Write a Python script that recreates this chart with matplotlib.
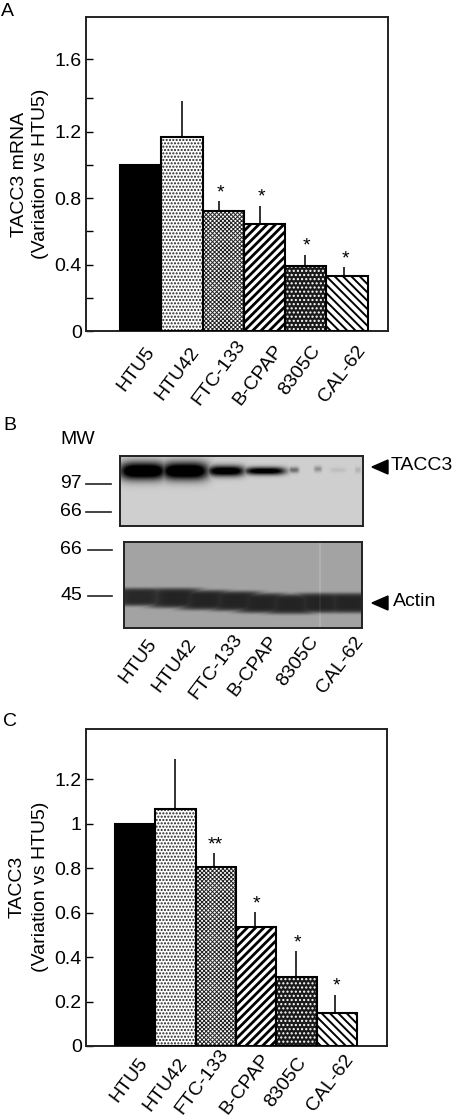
import numpy as np
import matplotlib
matplotlib.use("Agg")
import matplotlib.pyplot as plt
from matplotlib.transforms import ScaledTranslation

W, H, DPI = 455, 1117, 100
plt.rcParams['font.family'] = ['Liberation Sans', 'DejaVu Sans']
plt.rcParams['font.size'] = 14

cells = ["HTU5", "HTU42", "FTC-133", "B-CPAP", "8305C", "CAL-62"]

# panel A
mrna = [1.0, 1.17, 0.72, 0.645, 0.39, 0.33]
mrna_err = [0, 0.215, 0.06, 0.11, 0.07, 0.055]
mrna_stars = ["", "", "*", "*", "*", "*"]
mrna_ticks = [0, 0.4, 0.8, 1.2, 1.635]
mrna_ticklabels = ["0", "0.4", "0.8", "1.2", "1.6"]
mrna_minor = [0.2, 0.6, 1.0, 1.4]

# panel C
prot = [1.0, 1.065, 0.805, 0.535, 0.31, 0.148]
prot_err = [0, 0.225, 0.062, 0.067, 0.117, 0.082]
prot_stars = ["", "", "**", "*", "*", "*"]
prot_ticks = [0, 0.2, 0.4, 0.6, 0.8, 1.0, 1.2]
prot_ticklabels = ["0", "0.2", "0.4", "0.6", "0.8", "1", "1.2"]

# panel B, band darkness per lane
tacc3_dark = [1.0, 1.0, 0.9, 0.85, 0.35, 0.22, 0.06, 0.1]
actin_dark = [0.56, 0.58, 0.58, 0.58, 0.58, 0.58, 0.58, 0.58]

# facecolor, hatch colour, hatch, hatch line width
styles = [("black", "black", None, 1),
          ("white", "#222222", ".....", 1),
          ("white", "#222222", "xxxxxxxx", 0.7),
          ("white", "black", "////", 2.0),
          ("#1a1a1a", "white", "....", 1),
          ("white", "black", "\\\\\\\\", 1.4)]

fig = plt.figure(figsize=(W / DPI, H / DPI), dpi=DPI)


def px_axes(l, t, r, b):
    return fig.add_axes([l / W, 1 - b / H, (r - l) / W, (b - t) / H])


def bar_panel(box, xlim, ylim, vals, errs, stars, ticks, ticklabels, err_shift,
              lab_dx, lab_dy, minor=None):
    ax = px_axes(*box)
    x = np.arange(len(cells))
    shifted = x + np.array(err_shift)
    ax.errorbar(shifted, vals, yerr=[np.zeros(len(errs)), errs], fmt="none",
                ecolor="#222222", elinewidth=1.3, capsize=0, zorder=1)
    for xi, v, st in zip(x, vals, styles):
        with plt.rc_context({"hatch.linewidth": st[3], "hatch.color": st[1]}):
            ax.bar(xi, v, width=1, color=st[0], edgecolor=st[1], hatch=st[2],
                   linewidth=0, zorder=2)
        ax.bar(xi, v, width=1, fill=False, edgecolor="black", linewidth=1.5, zorder=3)
    for sx, v, e, s in zip(shifted, vals, errs, stars):
        ax.annotate(s, (sx, v + e), xytext=(1, 0), textcoords="offset points",
                    ha="center", va="bottom", fontsize=14, zorder=4)
    ax.set_xlim(*xlim)
    ax.set_ylim(*ylim)
    ax.set_yticks(ticks, ticklabels)
    if minor is not None:
        ax.set_yticks(minor, minor=True)
    ax.tick_params(axis="y", which="both", direction="in", length=5, width=1, pad=3,
                   labelsize=14)
    ax.set_xticks(x, cells, rotation=53, ha="right", va="center", rotation_mode="anchor")
    ax.tick_params(axis="x", length=0, pad=0, labelsize=14)
    for lab, dx, dy in zip(ax.get_xticklabels(), lab_dx, lab_dy):
        lab.set_transform(lab.get_transform() +
                          ScaledTranslation(dx / DPI, -dy / DPI, fig.dpi_scale_trans))
    for s in ax.spines.values():
        s.set_linewidth(1.4)
        s.set_color("#222222")
    return ax


bar_panel((86, 17, 388, 331), (-1.323, 5.99), (0, 1.89), mrna, mrna_err, mrna_stars,
          mrna_ticks, mrna_ticklabels, [0, -0.01, -0.1, -0.11, -0.02, -0.07],
          [11, 14, 19, 15, 11, 15], [18, 18, 11, 16, 16, 16], minor=mrna_minor)
bar_panel((86, 729, 387, 1046), (-1.219, 6.245), (0, 1.425), prot, prot_err, prot_stars,
          prot_ticks, prot_ticklabels, [0, -0.015, -0.05, -0.03, 0, -0.045],
          [9, 9, 9, 10, 7, 13], [14, 14, 5, 10, 13, 10])


# western blots, built as grey images from the lanes
def blot(box, bg, centers, half_w, rows, thick, dark, sharp=4):
    l, t, r, b = box
    xx, yy = np.meshgrid(np.arange(l, r) + 0.5, np.arange(t, b) + 0.5)
    band = np.zeros(xx.shape)
    for c, hw, row, th, d in zip(centers, half_w, rows, thick, dark):
        one = d * np.exp(-np.abs((xx - c) / hw) ** 4) * np.exp(-np.abs((yy - row) / th) ** sharp)
        band = np.maximum(band, one)
    return bg * (1 - np.clip(band * 1.35, 0, 1))


ax_t = px_axes(120, 456, 363, 526)
img = blot((120, 456, 363, 526), 0.81,
           [143, 185, 226, 265, 294, 318, 338, 358],
           [24, 24, 19, 21, 5, 4, 8, 3],
           [471, 471, 471, 471, 470, 469, 470, 470],
           [9, 9, 5.5, 4, 3, 3, 2.5, 3],
           tacc3_dark, sharp=2)
ax_a = px_axes(124, 542, 362, 628)
img2 = blot((124, 542, 362, 628), 0.64,
            [140, 175, 205, 235, 262, 290, 320, 350],
            [30, 30, 30, 30, 30, 30, 30, 30],
            [597, 598, 600, 601, 603, 604, 603, 603],
            [9, 10, 10, 10, 10, 10, 10, 10],
            actin_dark, sharp=6)
img2[:, 195:197] = img2[:, 195:197] + 0.05
for a, im in ((ax_t, img), (ax_a, img2)):
    a.imshow(im, cmap="gray", vmin=0, vmax=1, aspect="auto", interpolation="bilinear")
    a.set_xticks([])
    a.set_yticks([])
    for s in a.spines.values():
        s.set_linewidth(1.4)
        s.set_color("#222222")

# overlay in pixel coordinates for the loose labels
ov = fig.add_axes([0, 0, 1, 1], zorder=10)
ov.set_xlim(0, W)
ov.set_ylim(H, 0)
ov.axis("off")

ov.text(1, 11, "A", va="center")
ov.text(3, 426, "B", va="center")
ov.text(3, 722, "C", va="center")

ov.text(20, 174, "TACC3 mRNA", rotation=90, ha="center", va="center")
ov.text(41, 174, "(Variation vs HTU5)", rotation=90, ha="center", va="center")
ov.text(17, 887, "TACC3", rotation=90, ha="center", va="center")
ov.text(41, 887, "(Variation vs HTU5)", rotation=90, ha="center", va="center")

ov.text(60, 440, "MW", va="center")
for lab, y, x0, x1 in (("97", 484, 86, 111), ("66", 512, 86, 111),
                       ("66", 550, 88, 112), ("45", 596, 88, 112)):
    ov.text(82, y - 1, lab, ha="right", va="center")
    ov.plot([x0, x1], [y, y], color="#222222", lw=1.2)

ov.fill([372, 388, 388], [467, 460, 474], color="black")
ov.fill([372, 388, 388], [603, 596, 610], color="black")
ov.text(391, 465, "TACC3", va="center")
ov.text(393, 602, "Actin", va="center")

blot_ends = [(153, 641), (193, 641), (239, 636), (275, 638), (315, 638), (360, 638)]
for name, (ex, ey) in zip(cells, blot_ends):
    ov.text(ex, ey, name, rotation=53, ha="right", va="center", rotation_mode="anchor")

fig.savefig("out.png", dpi=DPI)
